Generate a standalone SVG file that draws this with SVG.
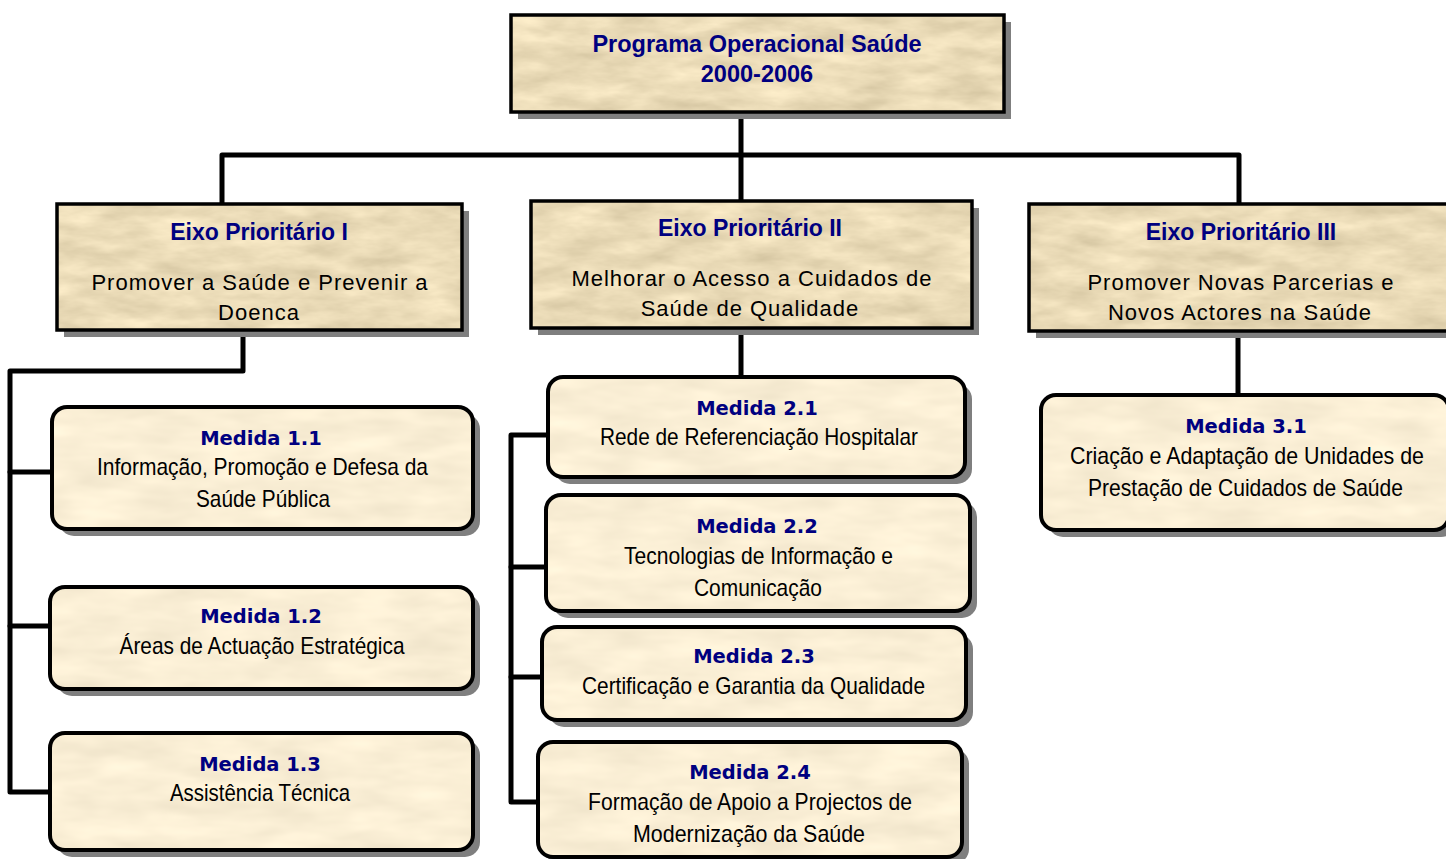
<svg xmlns="http://www.w3.org/2000/svg" width="1446" height="859" viewBox="0 0 1446 859">
<defs>
<filter id="texDark" x="0" y="0" width="1" height="1" color-interpolation-filters="sRGB">
<feTurbulence type="fractalNoise" baseFrequency="0.02 0.06" numOctaves="4" seed="7" result="n"/>
<feColorMatrix in="n" type="matrix" values="0.2 0 0 0 0.82  0.2 0 0 0 0.76  0.2 0 0 0 0.62  0 0 0 0 1" result="c"/>
<feComposite in="c" in2="SourceGraphic" operator="in"/>
</filter>
<filter id="texLight" x="0" y="0" width="1" height="1" color-interpolation-filters="sRGB">
<feTurbulence type="fractalNoise" baseFrequency="0.015 0.05" numOctaves="3" seed="3" result="n"/>
<feColorMatrix in="n" type="matrix" values="0.1 0 0 0 0.93  0.1 0 0 0 0.885  0.1 0 0 0 0.785  0 0 0 0 1" result="c"/>
<feComposite in="c" in2="SourceGraphic" operator="in"/>
</filter>
</defs>
<style>
.sh{fill:#7f7f7f}
.fd{fill:#ebdbb8;filter:url(#texDark)}
.fl{fill:#faeed5;filter:url(#texLight)}
.ol{fill:none;stroke:#000;stroke-width:3.5}
.olr{fill:none;stroke:#000;stroke-width:4}
.t{font-family:"Liberation Sans",Arial,sans-serif;font-weight:bold;font-size:23px;fill:#000080;text-anchor:middle}
.tt{font-size:23.5px}
.b{font-family:"Liberation Sans",Arial,sans-serif;font-size:22px;letter-spacing:1px;fill:#000;text-anchor:middle}
.mt{font-family:"DejaVu Sans",Verdana,sans-serif;font-weight:bold;font-size:19.5px;fill:#000080;text-anchor:middle}
.mb{font-family:"Liberation Sans Narrow","Liberation Sans",Arial,sans-serif;font-size:24px;fill:#000;text-anchor:middle}
.c{fill:none;stroke:#000;stroke-width:5;stroke-linecap:round;stroke-linejoin:round}
</style>

<g id="connectors">
<path class="c" d="M741,112 V200"/>
<path class="c" d="M222,203 V155 H1239 V203"/>
<path class="c" d="M243,330 V371 H10 V792 H51"/>
<path class="c" d="M10,472 H52"/>
<path class="c" d="M10,626 H51"/>
<path class="c" d="M741,328 V377"/>
<path class="c" d="M548,435 H511 V802 H538"/>
<path class="c" d="M511,567 H546"/>
<path class="c" d="M511,677 H542"/>
<path class="c" d="M1238,331 V395"/>
</g>

<g id="programa">
<rect class="sh" x="518" y="22" width="493" height="97"/>
<rect class="fd" x="511" y="15" width="493" height="97"/>
<rect class="ol" x="511" y="15" width="493" height="97"/>
<text class="t tt" x="757" y="52">Programa Operacional Saúde</text>
<text class="t tt" x="757" y="82">2000-2006</text>
</g>

<g id="eixo1">
<rect class="sh" x="64" y="211" width="405" height="126"/>
<rect class="fd" x="57" y="204" width="405" height="126"/>
<rect class="ol" x="57" y="204" width="405" height="126"/>
<text class="t" x="259" y="240">Eixo Prioritário I</text>
<text class="b" x="260" y="290">Promover a Saúde e Prevenir a</text>
<text class="b" x="259" y="320">Doenca</text>
</g>

<g id="eixo2">
<rect class="sh" x="538" y="208" width="441" height="127"/>
<rect class="fd" x="531" y="201" width="441" height="127"/>
<rect class="ol" x="531" y="201" width="441" height="127"/>
<text class="t" x="750" y="236">Eixo Prioritário II</text>
<text class="b" x="752" y="286">Melhorar o Acesso a Cuidados de</text>
<text class="b" x="750" y="316">Saúde de Qualidade</text>
</g>

<g id="eixo3">
<rect class="sh" x="1036" y="211" width="425" height="127"/>
<rect class="fd" x="1029" y="204" width="425" height="127"/>
<rect class="ol" x="1029" y="204" width="425" height="127"/>
<text class="t" x="1241" y="240">Eixo Prioritário III</text>
<text class="b" x="1241" y="290">Promover Novas Parcerias e</text>
<text class="b" x="1240" y="320">Novos Actores na Saúde</text>
</g>

<g id="medida11">
<rect class="sh" x="59" y="414" width="421" height="122" rx="15"/>
<rect class="fl" x="52" y="407" width="421" height="122" rx="15"/>
<rect class="olr" x="52" y="407" width="421" height="122" rx="15"/>
<text class="mt" x="261" y="445">Medida 1.1</text>
<text class="mb" x="262.5" y="475" textLength="331" lengthAdjust="spacingAndGlyphs">Informação, Promoção e Defesa da</text>
<text class="mb" x="263" y="507" textLength="134" lengthAdjust="spacingAndGlyphs">Saúde Pública</text>
</g>

<g id="medida12">
<rect class="sh" x="57" y="594" width="423" height="102" rx="15"/>
<rect class="fl" x="50" y="587" width="423" height="102" rx="15"/>
<rect class="olr" x="50" y="587" width="423" height="102" rx="15"/>
<text class="mt" x="261" y="623">Medida 1.2</text>
<text class="mb" x="262" y="654" textLength="285" lengthAdjust="spacingAndGlyphs">Áreas de Actuação Estratégica</text>
</g>

<g id="medida13">
<rect class="sh" x="57" y="740" width="423" height="117" rx="15"/>
<rect class="fl" x="50" y="733" width="423" height="117" rx="15"/>
<rect class="olr" x="50" y="733" width="423" height="117" rx="15"/>
<text class="mt" x="260" y="771">Medida 1.3</text>
<text class="mb" x="260" y="801" textLength="180" lengthAdjust="spacingAndGlyphs">Assistência Técnica</text>
</g>

<g id="medida21">
<rect class="sh" x="555" y="384" width="417" height="100" rx="15"/>
<rect class="fl" x="548" y="377" width="417" height="100" rx="15"/>
<rect class="olr" x="548" y="377" width="417" height="100" rx="15"/>
<text class="mt" x="757" y="415">Medida 2.1</text>
<text class="mb" x="759" y="445" textLength="318" lengthAdjust="spacingAndGlyphs">Rede de Referenciação Hospitalar</text>
</g>

<g id="medida22">
<rect class="sh" x="553" y="502" width="424" height="116" rx="15"/>
<rect class="fl" x="546" y="495" width="424" height="116" rx="15"/>
<rect class="olr" x="546" y="495" width="424" height="116" rx="15"/>
<text class="mt" x="757" y="533">Medida 2.2</text>
<text class="mb" x="758.5" y="564" textLength="269" lengthAdjust="spacingAndGlyphs">Tecnologias de Informação e</text>
<text class="mb" x="758" y="596" textLength="128" lengthAdjust="spacingAndGlyphs">Comunicação</text>
</g>

<g id="medida23">
<rect class="sh" x="549" y="634" width="424" height="93" rx="15"/>
<rect class="fl" x="542" y="627" width="424" height="93" rx="15"/>
<rect class="olr" x="542" y="627" width="424" height="93" rx="15"/>
<text class="mt" x="754" y="663">Medida 2.3</text>
<text class="mb" x="753.5" y="694" textLength="343" lengthAdjust="spacingAndGlyphs">Certificação e Garantia da Qualidade</text>
</g>

<g id="medida24">
<rect class="sh" x="545" y="749" width="424" height="115" rx="15"/>
<rect class="fl" x="538" y="742" width="424" height="115" rx="15"/>
<rect class="olr" x="538" y="742" width="424" height="115" rx="15"/>
<text class="mt" x="750" y="779">Medida 2.4</text>
<text class="mb" x="750" y="810" textLength="324" lengthAdjust="spacingAndGlyphs">Formação de Apoio a Projectos de</text>
<text class="mb" x="749" y="842" textLength="232" lengthAdjust="spacingAndGlyphs">Modernização da Saúde</text>
</g>

<g id="medida31">
<rect class="sh" x="1048" y="402" width="408" height="135" rx="15"/>
<rect class="fl" x="1041" y="395" width="408" height="135" rx="15"/>
<rect class="olr" x="1041" y="395" width="408" height="135" rx="15"/>
<text class="mt" x="1246" y="433">Medida 3.1</text>
<text class="mb" x="1247" y="464" textLength="354" lengthAdjust="spacingAndGlyphs">Criação e Adaptação de Unidades de</text>
<text class="mb" x="1245.5" y="496" textLength="315" lengthAdjust="spacingAndGlyphs">Prestação de Cuidados de Saúde</text>
</g>
</svg>
